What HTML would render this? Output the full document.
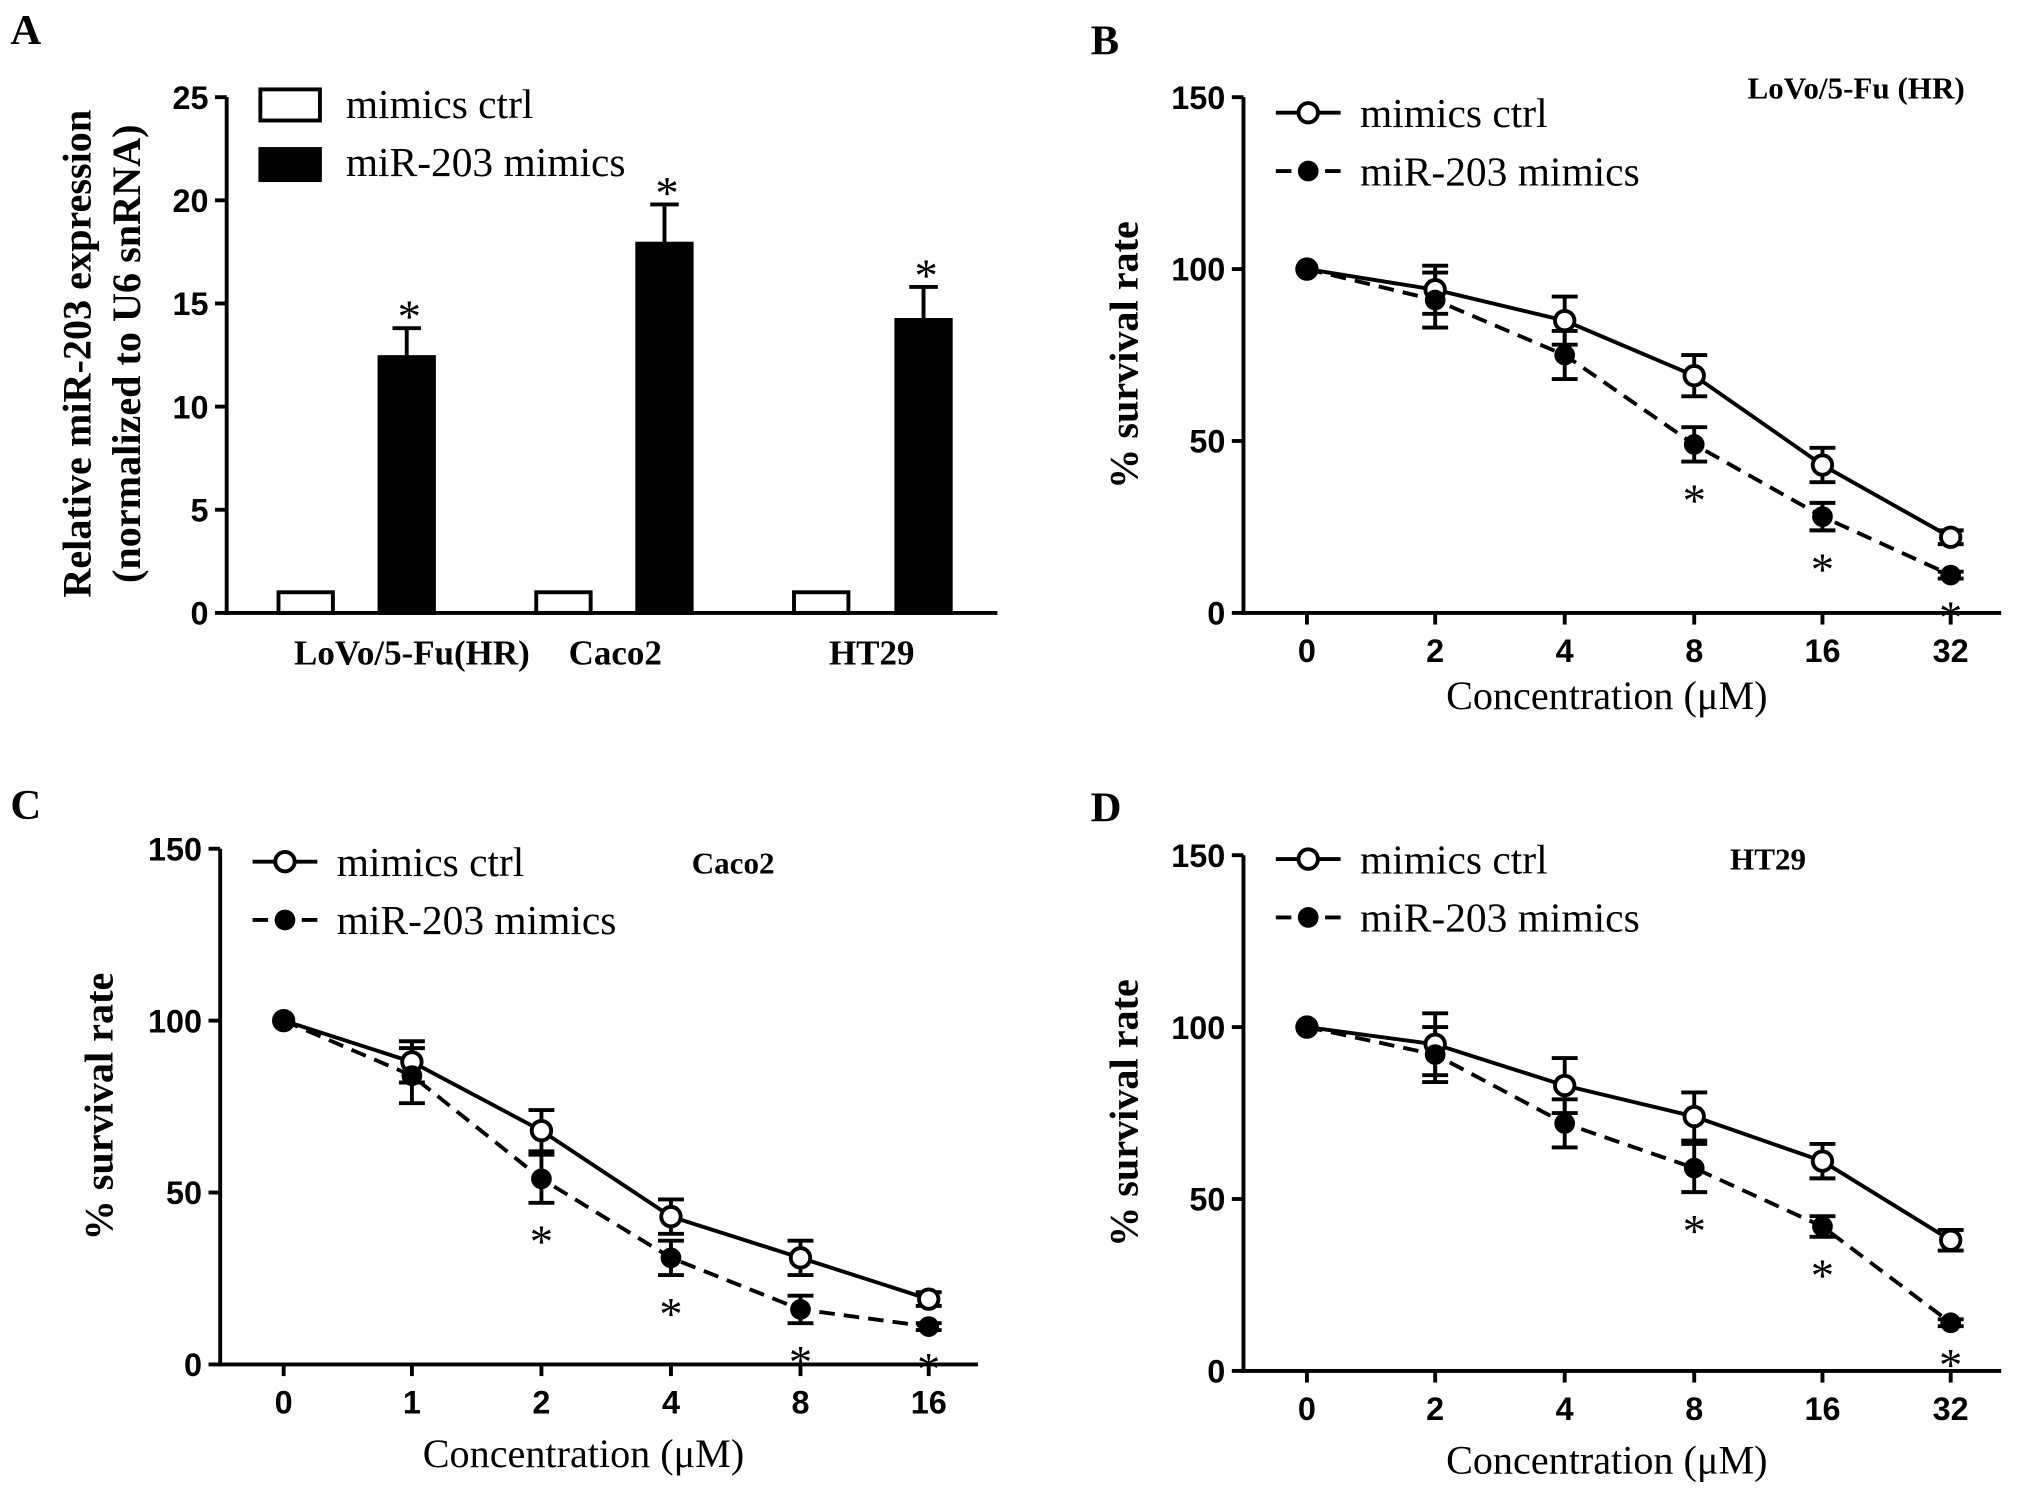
<!DOCTYPE html>
<html><head><meta charset="utf-8"><style>
html,body{margin:0;padding:0;background:#fff}
svg{display:block}
.tick{font-family:"Liberation Sans",sans-serif;font-weight:bold;font-size:25px}
.cat{font-family:"Liberation Serif",serif;font-weight:bold;font-size:27px}
.ylab{font-family:"Liberation Serif",serif;font-weight:bold;font-size:31px}
.xlab{font-family:"Liberation Serif",serif;font-size:31px}
.leg{font-family:"Liberation Serif",serif;font-size:32px}
.ttl{font-family:"Liberation Serif",serif;font-weight:bold;font-size:24px}
.let{font-family:"Liberation Serif",serif;font-weight:bold;font-size:33px}
.star{font-family:"Liberation Serif",serif;font-size:36px}
</style></head><body>
<svg id="fig" width="2031" height="1494" viewBox="0 0 1568 1153" preserveAspectRatio="none" xmlns="http://www.w3.org/2000/svg"></svg>
<script>
// Panel A data
const aCategories = ["LoVo/5-Fu(HR)","Caco2","HT29"];
const aCtrl = [1,1,1];
const aMimics = [12.4,17.9,14.2];
const aMimicsErr = [1.4,1.9,1.6];
const aTicks = [0,5,10,15,20,25];
// Panel B
const bCats = ["0","2","4","8","16","32"];
const bCtrl = [100,94,85,69,43,22];
const bCtrlErr = [0,7,7,6,5,2];
const bMim = [100,91,75,49,28,11];
const bMimErr = [0,8,7,5,4,1];
const bStars = [false,false,false,true,true,true];
// Panel C
const cCats = ["0","1","2","4","8","16"];
const cCtrl = [100,88,68,43,31,19];
const cCtrlErr = [0,6,6,5,5,2];
const cMim = [100,84,54,31,16,11];
const cMimErr = [0,8,7,5,4,1];
const cStars = [false,false,true,true,true,true];
// Panel D
const dCats = ["0","2","4","8","16","32"];
const dCtrl = [100,95,83,74,61,38];
const dCtrlErr = [0,9,8,7,5,3];
const dMim = [100,92,72,59,42,14];
const dMimErr = [0,8,7,7,3,1];
const dStars = [false,false,false,true,true,true];
const lineTicks = [0,50,100,150];

const svg=document.getElementById('fig');
const NS='http://www.w3.org/2000/svg';
function el(tag,attrs,text){const e=document.createElementNS(NS,tag);for(const k in attrs)e.setAttribute(k,attrs[k]);if(text!==undefined)e.textContent=text;svg.appendChild(e);return e;}

// ---------- Panel A ----------
(function(){
  const x0=175,x1=770,yb=473,yt=75,max=25;
  const y=v=>yb-(v/max)*(yb-yt);
  let e=el('text',{x:8,y:34,class:'let'},'A');
  
  e=el('line',{x1:x0,y1:yt,x2:x0,y2:yb+1.5,stroke:'#000','stroke-width':3});
  
  e=el('line',{x1:x0-1.5,y1:yb,x2:x1,y2:yb,stroke:'#000','stroke-width':3});
  
  aTicks.forEach(t=>{
    el('line',{x1:x0-9,y1:y(t),x2:x0,y2:y(t),stroke:'#000','stroke-width':3});
    e=el('text',{x:x0-14,y:y(t)+9,class:'tick','text-anchor':'end'},t);
    
  });
  const ctrlX=[236,435,634],mimX=[314,513,713],labX=[318,475,673],bw=42;
  aCategories.forEach((c,i)=>{
    e=el('rect',{x:ctrlX[i]-bw/2,y:y(aCtrl[i]),width:bw,height:yb-y(aCtrl[i]),fill:'#fff',stroke:'#000','stroke-width':3});
    
    const top=y(aMimics[i]+aMimicsErr[i]);
    el('line',{x1:mimX[i],y1:top,x2:mimX[i],y2:y(aMimics[i]),stroke:'#000','stroke-width':3});
    el('line',{x1:mimX[i]-11,y1:top,x2:mimX[i]+11,y2:top,stroke:'#000','stroke-width':3});
    e=el('rect',{x:mimX[i]-bw/2,y:y(aMimics[i]),width:bw,height:yb-y(aMimics[i]),fill:'#000',stroke:'#000','stroke-width':3});
    
    e=el('text',{x:mimX[i]+2,y:top+3,class:'star','text-anchor':'middle'},'*');
    
    e=el('text',{x:labX[i],y:513,class:'cat','text-anchor':'middle'},c);
    
  });
  e=el('text',{x:0,y:0,class:'ylab','text-anchor':'middle',transform:'translate(70,273) rotate(-90)'},'Relative miR-203 expression');
  
  e=el('text',{x:0,y:0,class:'ylab','text-anchor':'middle',transform:'translate(108,273) rotate(-90)'},'(normalized to U6 snRNA)');
  
  e=el('rect',{x:201,y:69,width:46,height:24,fill:'#fff',stroke:'#000','stroke-width':3});
  
  e=el('text',{x:267,y:91,class:'leg'},'mimics ctrl');
  
  e=el('rect',{x:201,y:115,width:46,height:24,fill:'#000',stroke:'#000','stroke-width':3});
  
  e=el('text',{x:267,y:136,class:'leg'},'miR-203 mimics');
  
})();

// ---------- line panels ----------
function linePanel(p){
  const {ax,yt,yb,x1,xs,cats,ctrl,ctrlErr,mim,mimErr,stars,letter,lx,ly,title,tx,ty,legY,legX,ylabX,xlabY,id}=p;
  const y=v=>yb-(v/150)*(yb-yt);
  let e=el('text',{x:lx,y:ly,class:'let'},letter);
  
  e=el('line',{x1:ax,y1:yt,x2:ax,y2:yb+1.5,stroke:'#000','stroke-width':3});
  
  e=el('line',{x1:ax-1.5,y1:yb,x2:x1,y2:yb,stroke:'#000','stroke-width':3});
  
  lineTicks.forEach(t=>{
    el('line',{x1:ax-9,y1:y(t),x2:ax,y2:y(t),stroke:'#000','stroke-width':3});
    e=el('text',{x:ax-14,y:y(t)+9,class:'tick','text-anchor':'end'},t);
    
  });
  cats.forEach((c,i)=>{
    el('line',{x1:xs[i],y1:yb,x2:xs[i],y2:yb+9,stroke:'#000','stroke-width':3});
    e=el('text',{x:xs[i],y:yb+38,class:'tick','text-anchor':'middle'},c);
    
  });
  const pts=arr=>arr.map((v,i)=>xs[i]+','+y(v)).join(' ');
  e=el('polyline',{points:pts(mim),fill:'none',stroke:'#000','stroke-width':3,'stroke-dasharray':'12,7'});
  
  e=el('polyline',{points:pts(ctrl),fill:'none',stroke:'#000','stroke-width':3});
  
  function err(v,d,x){ if(!d)return;
    el('line',{x1:x,y1:y(v+d),x2:x,y2:y(v-d),stroke:'#000','stroke-width':3});
    el('line',{x1:x-10,y1:y(v+d),x2:x+10,y2:y(v+d),stroke:'#000','stroke-width':3});
    el('line',{x1:x-10,y1:y(v-d),x2:x+10,y2:y(v-d),stroke:'#000','stroke-width':3});}
  cats.forEach((c,i)=>{
    err(ctrl[i],ctrlErr[i],xs[i]); err(mim[i],mimErr[i],xs[i]);
    e=el('circle',{cx:xs[i],cy:y(ctrl[i]),r:7.5,fill:'#fff',stroke:'#000','stroke-width':3});
    
    e=el('circle',{cx:xs[i],cy:y(mim[i]),r:8,fill:'#000'});
    
    if(stars[i]){
      e=el('text',{x:xs[i],y:y(mim[i]-mimErr[i])+42,class:'star','text-anchor':'middle'},'*');
      
    }
  });
  el('line',{x1:legX,y1:legY,x2:legX+50,y2:legY,stroke:'#000','stroke-width':3});
  el('circle',{cx:legX+25,cy:legY,r:7.5,fill:'#fff',stroke:'#000','stroke-width':3});
  e=el('text',{x:legX+65,y:legY+11,class:'leg'},'mimics ctrl');
  
  el('line',{x1:legX,y1:legY+45,x2:legX+50,y2:legY+45,stroke:'#000','stroke-width':3,'stroke-dasharray':'12,7'});
  el('circle',{cx:legX+25,cy:legY+45,r:8,fill:'#000'});
  e=el('text',{x:legX+65,y:legY+56,class:'leg'},'miR-203 mimics');
  
  e=el('text',{x:tx,y:ty,class:'ttl','text-anchor':'middle'},title);
  
  e=el('text',{x:0,y:0,class:'ylab','text-anchor':'middle',transform:`translate(${ylabX},${(yt+yb)/2}) rotate(-90)`},'% survival rate');
  
  e=el('text',{x:(ax+x1)/2-12,y:xlabY,class:'xlab','text-anchor':'middle'},'Concentration (\u03bcM)');
  
}
const xsR=[1009,1108,1208,1308,1407,1506];
const xsL=[219,318,418,518,618,717];
linePanel({id:'b',ax:960,yt:75,yb:473,x1:1545,xs:xsR,cats:bCats,ctrl:bCtrl,ctrlErr:bCtrlErr,mim:bMim,mimErr:bMimErr,stars:bStars,letter:'B',lx:842,ly:42,title:'LoVo/5-Fu (HR)',tx:1433,ty:76,legY:87,legX:985,ylabX:878,xlabY:547});
linePanel({id:'c',ax:170,yt:655,yb:1053,x1:755,xs:xsL,cats:cCats,ctrl:cCtrl,ctrlErr:cCtrlErr,mim:cMim,mimErr:cMimErr,stars:cStars,letter:'C',lx:8,ly:632,title:'Caco2',tx:566,ty:674,legY:665,legX:195,ylabX:87,xlabY:1132});
linePanel({id:'d',ax:960,yt:660,yb:1058,x1:1545,xs:xsR,cats:dCats,ctrl:dCtrl,ctrlErr:dCtrlErr,mim:dMim,mimErr:dMimErr,stars:dStars,letter:'D',lx:842,ly:634,title:'HT29',tx:1365,ty:671,legY:663,legX:985,ylabX:878,xlabY:1137});
</script>
</body></html>
